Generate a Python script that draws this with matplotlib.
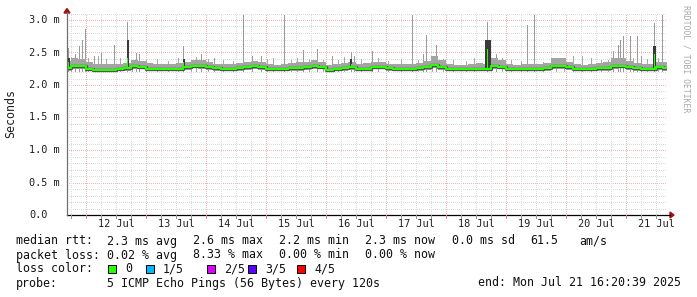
import numpy as np
import matplotlib
matplotlib.use('Agg')
import matplotlib.pyplot as plt
import matplotlib.transforms as mtrans
from matplotlib.patches import Rectangle, Polygon

W, H = 697, 297
MONO = 'DejaVu Sans Mono'

# --- DATA (times in hours since Jul 11 00:00, values in ms) ---
t_start = 16 + 20 / 60 + 39 / 3600
span_h = 240.0
step_h = 3.0

median_ms = [2.26, 2.30, 2.30, 2.24, 2.23, 2.23, 2.23, 2.24, 2.26, 2.29,
             2.28, 2.25, 2.25, 2.25, 2.25, 2.25, 2.27, 2.30, 2.29, 2.27,
             2.26, 2.25, 2.25, 2.26, 2.27, 2.29, 2.27, 2.25, 2.24, 2.25,
             2.26, 2.26, 2.27, 2.29, 2.28, 2.23, 2.25, 2.26, 2.27, 2.24,
             2.25, 2.28, 2.28, 2.26, 2.25, 2.25, 2.25, 2.26, 2.27, 2.31,
             2.27, 2.25, 2.24, 2.24, 2.24, 2.25, 2.24, 2.29, 2.28, 2.25,
             2.24, 2.25, 2.25, 2.25, 2.26, 2.29, 2.29, 2.27, 2.25, 2.24,
             2.25, 2.26, 2.26, 2.29, 2.30, 2.27, 2.26, 2.24, 2.24, 2.27,
             2.26]
smoke_hi = [2.37, 2.41, 2.40, 2.35, 2.32, 2.32, 2.33, 2.33, 2.34, 2.38,
            2.37, 2.34, 2.32, 2.32, 2.33, 2.34, 2.36, 2.38, 2.38, 2.35,
            2.33, 2.32, 2.32, 2.34, 2.35, 2.37, 2.35, 2.32, 2.31, 2.33,
            2.34, 2.35, 2.36, 2.38, 2.36, 2.31, 2.32, 2.34, 2.36, 2.33,
            2.34, 2.36, 2.35, 2.33, 2.32, 2.32, 2.33, 2.34, 2.37, 2.45,
            2.38, 2.33, 2.31, 2.31, 2.32, 2.34, 2.33, 2.41, 2.38, 2.32,
            2.31, 2.32, 2.32, 2.32, 2.34, 2.41, 2.41, 2.36, 2.32, 2.31,
            2.32, 2.34, 2.35, 2.41, 2.42, 2.37, 2.34, 2.32, 2.32, 2.36,
            2.35]
smoke_lo = [2.22, 2.25, 2.25, 2.21, 2.21, 2.21, 2.21, 2.21, 2.22, 2.25,
            2.24, 2.22, 2.22, 2.22, 2.22, 2.22, 2.23, 2.26, 2.25, 2.23,
            2.22, 2.22, 2.22, 2.22, 2.23, 2.25, 2.23, 2.22, 2.21, 2.22,
            2.22, 2.22, 2.23, 2.25, 2.24, 2.21, 2.22, 2.22, 2.23, 2.21,
            2.22, 2.24, 2.24, 2.22, 2.22, 2.22, 2.22, 2.22, 2.23, 2.26,
            2.23, 2.22, 2.21, 2.21, 2.21, 2.22, 2.21, 2.25, 2.24, 2.22,
            2.21, 2.22, 2.22, 2.22, 2.22, 2.25, 2.25, 2.23, 2.22, 2.21,
            2.22, 2.22, 2.22, 2.25, 2.26, 2.23, 2.22, 2.21, 2.21, 2.23,
            2.22]

# single-sample maximum pings sticking out of the smoke
spike_h = [17.0, 19.9, 21.5, 22.6, 23.7, 27.5, 30.3, 35.5, 40.7, 44.3,
           45.5, 63.1, 70.3, 75.5, 87.1, 90.7, 94.3, 103.5, 111.1, 116.7,
           122.7, 130.0, 131.5, 138.7, 154.7, 159.1, 160.3, 164.3, 184.7, 188.3,
           200.7, 203.5, 235.1, 237.1, 237.9, 239.1, 241.9, 244.7, 246.3, 251.5,
           254.7]
spike_top = [2.57, 2.47, 2.60, 2.69, 2.86, 2.45, 2.50, 2.62, 2.97, 2.50,
             2.48, 2.60, 2.47, 2.42, 3.08, 2.45, 2.44, 3.08, 2.54, 2.55,
             2.45, 2.51, 2.45, 2.53, 3.08, 2.47, 2.77, 2.62, 2.97, 2.48,
             2.93, 3.08, 2.52, 2.62, 2.70, 2.75, 2.75, 2.75, 2.45, 2.95,
             3.08]
# smaller ripples on top of the smoke
ripple_h = [18.2, 25.0, 29.0, 32.0, 37.8, 42.5, 48.0, 52.5, 57.0, 61.0,
            66.0, 68.0, 73.0, 79.0, 83.0, 96.5, 99.0, 106.0, 108.5, 113.5,
            119.0, 125.0, 127.5, 134.0, 141.0, 145.0, 150.0, 157.0, 162.5, 167.0,
            171.0, 176.0, 179.5, 190.5, 194.0, 198.0, 207.0, 212.0, 215.5, 219.0,
            222.5, 226.0, 230.0, 233.0, 243.0, 248.5, 253.0]
ripple_top = [2.43, 2.41, 2.44, 2.40, 2.42, 2.39, 2.38, 2.40, 2.37, 2.41,
              2.38, 2.43, 2.40, 2.39, 2.37, 2.40, 2.41, 2.38, 2.42, 2.40,
              2.39, 2.38, 2.43, 2.40, 2.41, 2.37, 2.40, 2.39, 2.42, 2.40,
              2.38, 2.37, 2.41, 2.42, 2.39, 2.37, 2.36, 2.38, 2.41, 2.44,
              2.45, 2.42, 2.39, 2.38, 2.42, 2.40, 2.41]

# short latency events: dark inner smoke and raised median
event_h = [17.0, 40.7, 63.1, 130.0, 184.7, 251.5]
event_w = [0.8, 0.8, 0.8, 0.8, 2.4, 1.2]
event_med = [2.36, 2.41, 2.36, 2.33, 2.56, 2.47]
event_dark = [2.42, 2.70, 2.40, 2.40, 2.70, 2.60]

day_labels = ['12 Jul', '13 Jul', '14 Jul', '15 Jul', '16 Jul',
              '17 Jul', '18 Jul', '19 Jul', '20 Jul', '21 Jul']
ytick_vals = [0.0, 0.5, 1.0, 1.5, 2.0, 2.5, 3.0]
ytick_labels = ['0.0', '0.5 m', '1.0 m', '1.5 m', '2.0 m', '2.5 m', '3.0 m']

loss_labels = ['0', '1/5', '2/5', '3/5', '4/5']
loss_colors = ['#26ff00', '#00b8ff', '#dd00ff', '#5e00ff', '#ff0000']

stats_rtt = ['2.3 ms avg', '2.6 ms max', '2.2 ms min', '2.3 ms now', '0.0 ms sd', '61.5', 'am/s']
stats_loss = ['0.02 % avg', '8.33 % max', '0.00 % min', '0.00 % now']

# --- FIGURE ---
fig = plt.figure(figsize=(W / 100, H / 100), dpi=100, facecolor='white')
x0, x1, y0, y1 = 67, 667, 215, 13.5
ax = fig.add_axes([x0 / W, 1 - y0 / H, (x1 - x0) / W, (y0 - y1) / H])
ax.set_facecolor('white')
t_end = t_start + span_h
ax.set_xlim(t_start, t_end)
ax.set_ylim(0, 3.1)
for s in ax.spines.values():
    s.set_visible(False)
ax.set_xticks([])
ax.set_yticks([])

# grid (1px on / 1px off dots)
dot = (0, (1, 1.4))
for v in np.arange(0.1, 3.11, 0.1):
    major = abs(v / 0.5 - round(v / 0.5)) < 1e-6
    ax.axhline(v, color='#f0b4b4' if major else '#dcdcdc', lw=0.72, ls=dot,
               antialiased=False, zorder=0)
for h in range(6, 258, 6):
    if t_start < h < t_end:
        ax.axvline(h, color='#f0b4b4' if h % 24 == 0 else '#dcdcdc', lw=0.72, ls=dot,
                   antialiased=False, zorder=0)

t = t_start + step_h * np.arange(len(median_ms))
med = np.array(median_ms)

ax.bar(spike_h, np.array(spike_top) - 2.2, bottom=2.2, width=0.45,
       color='#9a9a9a', lw=0, zorder=2)
ax.bar(ripple_h, np.array(ripple_top) - 2.2, bottom=2.2, width=0.45,
       color='#a8a8a8', lw=0, zorder=2)
ax.fill_between(t, smoke_lo, smoke_hi, step='mid', color='#a4a4a4', lw=0, zorder=3)
ax.bar(event_h, np.array(event_dark) - 2.26, bottom=2.26, width=event_w,
       color='#3a3a3a', lw=0, zorder=4)
ax.step(t, med, where='mid', color='#505050', lw=2.4, zorder=5)
ax.step(t, med, where='mid', color='#26ff00', lw=1.5, zorder=6)
ax.bar(event_h, np.array(event_med) - 2.26, bottom=2.26, width=0.4,
       color='#26ff00', lw=0, zorder=6)

# axes lines and arrows
px = lambda x: x / W
py = lambda y: 1 - y / H
fig.add_artist(plt.Line2D([px(67), px(670)], [py(215), py(215)], color='black', lw=0.9))
fig.add_artist(plt.Line2D([px(67), px(67)], [py(215), py(12)], color='#707070', lw=0.9))
fig.add_artist(Polygon([[px(670), py(212)], [px(674), py(215)], [px(670), py(218)]],
                       closed=True, color='#a01010', transform=fig.transFigure))
fig.add_artist(Polygon([[px(64), py(13)], [px(67), py(8.5)], [px(70), py(13)]],
                       closed=True, color='#a01010', transform=fig.transFigure))
# small ticks under the x axis
for h in range(6, 258, 6):
    if t_start < h < t_end:
        xx = px(67 + (h - t_start) * 2.5)
        col = '#e08080' if h % 24 == 0 else '#909090'
        fig.add_artist(plt.Line2D([xx, xx], [py(215), py(218)], color=col, lw=0.7))

# tick labels
ytr = mtrans.blended_transform_factory(fig.transFigure, ax.transData)
for v, lab in zip(ytick_vals, ytick_labels):
    fig.text(px(29), v, lab, transform=ytr, family=MONO, fontsize=7.4,
             ha='left', va='center', color='#202020')
for k, lab in enumerate(day_labels):
    ax.text(36 + 24 * k, -0.14, lab, family=MONO, fontsize=7.4, ha='center', va='center',
            color='#202020', clip_on=False)

fig.text(px(11), py(114), 'Seconds', rotation=90, family=MONO, fontsize=8.4,
         ha='center', va='center', color='#202020')
fig.text(px(686), py(5), 'RRDTOOL / TOBI OETIKER', rotation=270, family=MONO,
         fontsize=5.9, ha='center', va='top', color='#a8a8a8')

# legend block
fs = 8.4
kw = dict(family=MONO, fontsize=fs, va='center', ha='left', color='#101010')
cols = [107, 193, 279, 365, 452, 530, 579]
fig.text(px(16), py(241), 'median rtt:', **kw)
for c, s in zip(cols, stats_rtt):
    fig.text(px(c), py(241), s, **kw)
fig.text(px(16), py(255), 'packet loss:', **kw)
for c, s in zip(cols, stats_loss):
    fig.text(px(c), py(255), s, **kw)
fig.text(px(16), py(269), 'loss color:', **kw)
box_x = [108, 146, 207, 248, 297]
for bx, lab, col in zip(box_x, loss_labels, loss_colors):
    fig.add_artist(Rectangle((px(bx), py(272.5)), 8 / W, 8 / H, transform=fig.transFigure,
                             facecolor=col, edgecolor='black', lw=0.7))
    fig.text(px(bx + 17), py(269), lab, **kw)
fig.text(px(16), py(283), 'probe:', **kw)
fig.text(px(107), py(283), '5 ICMP Echo Pings (56 Bytes) every 120s', **kw)
fig.text(px(478), py(283), 'end: Mon Jul 21 16:20:39 2025', **kw)

fig.savefig('out.png', dpi=100, facecolor='white')
